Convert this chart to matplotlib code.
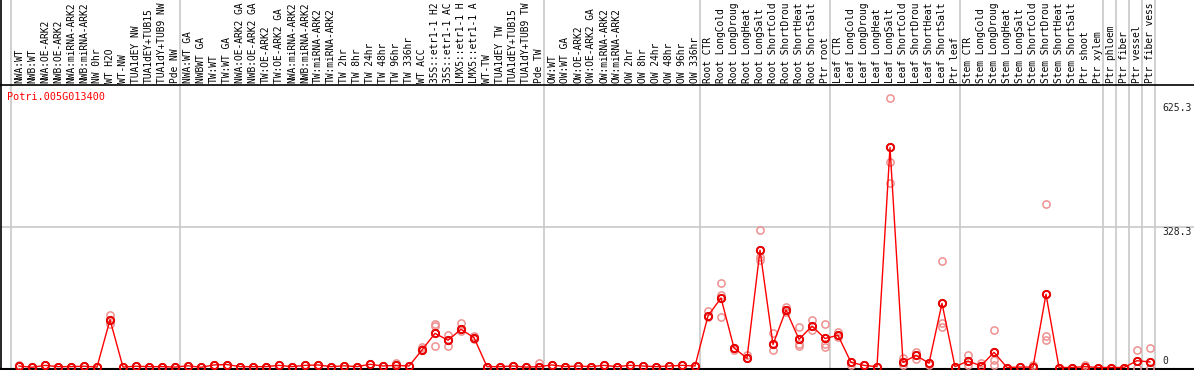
import matplotlib
matplotlib.use("Agg")
import matplotlib.pyplot as plt

# sample names as shown (the chart cuts them at 14 characters)
sample_names = [
    # NW
    "NWA:WT", "NWB:WT", "NWA:OE-ARK2", "NWB:OE-ARK2", "NWA:miRNA-ARK2", "NWB:miRNA-ARK2",
    "NW 0hr", "WT H2O", "WT-NW", "TUA1dEY NW", "TUA1dEY+TUB15", "TUA1dY+TUB9 NW", "Pde NW",
    # TW
    "NWA:WT GA", "NWBWT GA", "TW:WT", "TW:WT GA", "NWA:OE-ARK2 GA", "NWB:OE-ARK2 GA",
    "TW:OE-ARK2", "TW:OE-ARK2 GA", "NWA:miRNA-ARK2", "NWB:miRNA-ARK2", "TW:miRNA-ARK2",
    "TW:miRNA-ARK2", "TW 2hr", "TW 8hr", "TW 24hr", "TW 48hr", "TW 96hr", "TW 336hr", "WT ACC",
    "35S::etr1-1 H2", "35S::etr1-1 AC", "LMX5::etr1-1 H", "LMX5::etr1-1 A", "WT-TW",
    "TUA1dEY TW", "TUA1dEY+TUB15", "TUA1dY+TUB9 TW", "Pde TW",
    # OW
    "OW:WT", "OW:WT GA", "OW:OE-ARK2", "OW:OE-ARK2 GA", "OW:miRNA-ARK2", "OW:miRNA-ARK2",
    "OW 2hr", "OW 8hr", "OW 24hr", "OW 48hr", "OW 96hr", "OW 336hr",
    # root
    "Root CTR", "Root LongCold", "Root LongDroug", "Root LongHeat", "Root LongSalt",
    "Root ShortCold", "Root ShortDrou", "Root ShortHeat", "Root ShortSalt", "Ptr root",
    # leaf
    "Leaf CTR", "Leaf LongCold", "Leaf LongDroug", "Leaf LongHeat", "Leaf LongSalt",
    "Leaf ShortCold", "Leaf ShortDrou", "Leaf ShortHeat", "Leaf ShortSalt", "Ptr leaf",
    # stem
    "Stem CTR", "Stem LongCold", "Stem LongDroug", "Stem LongHeat", "Stem LongSalt",
    "Stem ShortCold", "Stem ShortDrou", "Stem ShortHeat", "Stem ShortSalt", "Ptr shoot",
    "Ptr xylem",
    "Ptr phloem", "Ptr fiber", "Ptr vessel", "Ptr fiber vess",
]

# first sample index of each group (group separators)
group_starts = [0, 13, 41, 53, 63, 73, 84, 85, 86, 87, 88]

mean_expr = [
    3.5, 0.5, 5, 2, 2, 3, 1, 112, 1, 3, 2, 2, 1,
    4, 0.5, 6, 7, 2, 2, 2, 5, 2, 5, 6, 2, 4, 2, 7.5, 3.5, 5, 3.5,
    41, 80, 64, 89.5, 70, 2, 2, 3.5, 1, 2,
    6, 2, 3.5, 2, 5, 2, 5, 3.5, 2, 3.5, 5, 3.5,
    121, 163, 46, 21.5, 275, 54, 135, 66, 97, 68,
    75.5, 12, 5, 2, 516, 12, 28.6, 10, 150.5, 2,
    15, 4, 35.6, 0, 1, 1, 171.6, 0, 0, 2, 0,
    0, 0, 16, 13,
]

# individual replicates (sample index, value)
rep_idx = [0, 7, 7, 29, 31, 31, 32, 32, 32, 33, 33, 34, 34, 35, 35, 40,
           53, 53, 54, 54, 54, 55, 56, 57, 57, 57, 58, 58, 59, 59, 60, 60, 60,
           61, 61, 62, 62, 62, 63, 63, 64, 67, 67, 67, 68, 68, 69, 69, 70,
           71, 71, 71, 73, 73, 74, 75, 75, 75, 78, 79, 79, 79, 82, 86, 86, 87, 87]
rep_val = [7, 123, 102, 10, 49, 44, 102, 97, 50, 75.5, 51, 105, 86, 74, 66, 10,
           133, 118, 197, 118, 170, 41, 29, 322, 260, 252, 80, 41, 141, 131, 94, 50, 55,
           111, 88, 101, 55, 48, 84, 72, 6, 631, 483, 432, 21.5, 6, 37, 19, 6,
           249, 105, 96, 29, 5, 11, 88, 17.6, 6, 6, 382.6, 74, 64.5, 6, 41, 0, 46, 0]

y_ticks = [0, 328.3, 625.3]
gene_name = "Potri.005G013400"

# pixel mapping helpers: x = 19 + 13*i px, y = 367.5 - 0.4265*v px
W, H = 1194, 370
px_per_val = 0.4265
x0, dx = 19, 13
y0 = 367.5


def vy(py):
    return (y0 - py) / px_per_val


def ix(px):
    return (px - x0) / dx


fig = plt.figure(figsize=(W / 100, H / 100), dpi=100)
ax = fig.add_axes([0, 0, 1, 1])
ax.set_xlim(ix(0), ix(W))
ax.set_ylim(vy(H), vy(0))
ax.axis("off")

mono = "DejaVu Sans Mono"

# group separators
for s in group_starts:
    ax.axvline(s - 0.62, color="#c8c8c8", lw=1.2, zorder=1)
ax.axvline(ix(1), color="black", lw=1.2, zorder=3)

# horizontal frame lines and grid
ax.axhline(vy(85), color="black", lw=1.2, zorder=3)
ax.axhline(vy(368.8), color="black", lw=1.5, zorder=3)
ax.axhline(y_ticks[1], color="#c8c8c8", lw=1.2, zorder=1)

# sample labels
for i, name in enumerate(sample_names):
    ax.text(i, vy(83), name, rotation=90, ha="center", va="bottom",
            fontsize=6.9, family=mono, color="black")

# y tick labels
tick_pos = {0: vy(366), 328.3: vy(237), 625.3: vy(113)}
for t in y_ticks:
    ax.text(ix(1162), tick_pos[t], f"{t:g}", ha="left", va="bottom",
            fontsize=7, family=mono, color="#222222")

ax.text(ix(7), vy(97), gene_name, ha="left", va="center",
        fontsize=7.3, family=mono, color="red")

# replicates
ax.plot(rep_idx, rep_val, linestyle="none", marker="o", ms=5.2,
        mfc="none", mec="#ee9090", mew=1.1, zorder=4)

# mean profile
xs = list(range(len(mean_expr)))
ax.plot(xs, mean_expr, color="red", lw=1.0, zorder=5)
ax.plot(xs, mean_expr, linestyle="none", marker="o", ms=5.2,
        mfc="none", mec="#b00000", mew=1.4, zorder=6)
ax.plot(xs, mean_expr, linestyle="none", marker="o", ms=5.2,
        mfc="none", mec="red", mew=1.0, zorder=7)

fig.savefig("out.png", dpi=100)
